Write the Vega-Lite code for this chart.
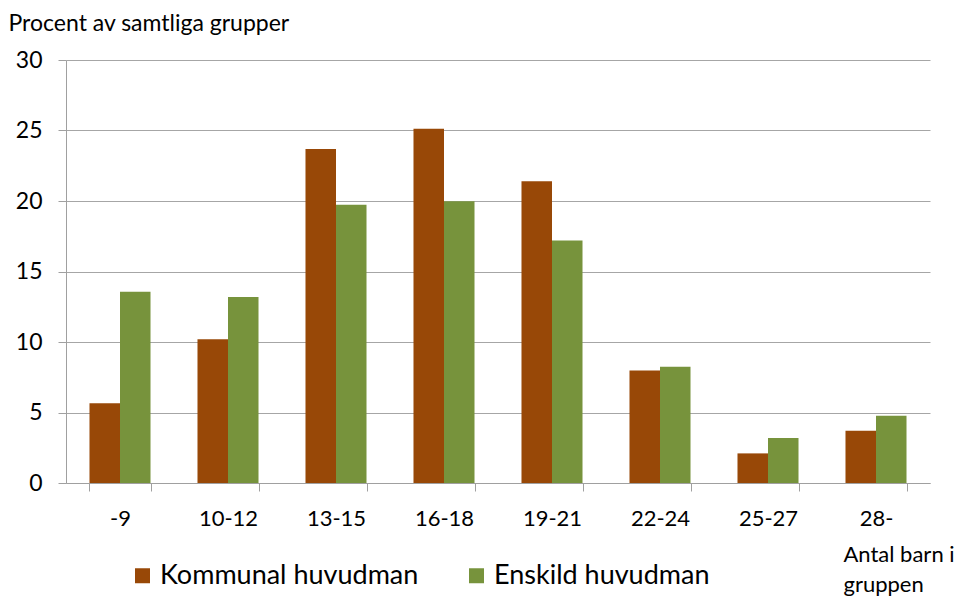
{
  "$schema": "https://vega.github.io/schema/vega-lite/v6.json",
  "width": 864,
  "height": 423,
  "autosize": "none",
  "padding": {"left": 66, "top": 60, "right": 26, "bottom": 113},
  "background": "white",
  "config": {
    "view": {"stroke": null},
    "font": "Lato",
    "axis": {"labelFont": "Lato", "titleFont": "Lato"},
    "legend": {"labelFont": "Lato"}
  },
  "data": {
    "values": [
      {"grupp": "-9", "huvudman": "Kommunal huvudman", "procent": 5.65},
      {"grupp": "-9", "huvudman": "Enskild huvudman", "procent": 13.57},
      {"grupp": "10-12", "huvudman": "Kommunal huvudman", "procent": 10.19},
      {"grupp": "10-12", "huvudman": "Enskild huvudman", "procent": 13.2},
      {"grupp": "13-15", "huvudman": "Kommunal huvudman", "procent": 23.68},
      {"grupp": "13-15", "huvudman": "Enskild huvudman", "procent": 19.74},
      {"grupp": "16-18", "huvudman": "Kommunal huvudman", "procent": 25.12},
      {"grupp": "16-18", "huvudman": "Enskild huvudman", "procent": 19.98},
      {"grupp": "19-21", "huvudman": "Kommunal huvudman", "procent": 21.4},
      {"grupp": "19-21", "huvudman": "Enskild huvudman", "procent": 17.2},
      {"grupp": "22-24", "huvudman": "Kommunal huvudman", "procent": 7.97},
      {"grupp": "22-24", "huvudman": "Enskild huvudman", "procent": 8.25},
      {"grupp": "25-27", "huvudman": "Kommunal huvudman", "procent": 2.1},
      {"grupp": "25-27", "huvudman": "Enskild huvudman", "procent": 3.2},
      {"grupp": "28-", "huvudman": "Kommunal huvudman", "procent": 3.7},
      {"grupp": "28-", "huvudman": "Enskild huvudman", "procent": 4.77}
    ]
  },
  "mark": {"type": "bar"},
  "encoding": {
    "x": {
      "field": "grupp",
      "type": "nominal",
      "sort": ["-9", "10-12", "13-15", "16-18", "19-21", "22-24", "25-27", "28-"],
      "scale": {"paddingInner": 0.435, "paddingOuter": 0.2175},
      "axis": {
        "title": ["Antal barn i", "gruppen"],
        "titleAnchor": "start",
        "titleAlign": "left",
        "titleX": 777,
        "titleY": 61,
        "titleBaseline": "top",
        "titleFontSize": 22,
        "titleFontWeight": "normal",
        "titleColor": "#000000",
        "titleLineHeight": 30,
        "labelAngle": 0,
        "labelFontSize": 22,
        "labelColor": "#000000",
        "labelPadding": 17,
        "tickBand": "extent",
        "tickSize": 8,
        "tickColor": "#a0a0a0",
        "domainColor": "#a0a0a0",
        "grid": false
      }
    },
    "xOffset": {
      "field": "huvudman",
      "type": "nominal",
      "sort": ["Kommunal huvudman", "Enskild huvudman"],
      "scale": {"paddingInner": 0, "paddingOuter": 0}
    },
    "y": {
      "field": "procent",
      "type": "quantitative",
      "scale": {"domain": [0, 30]},
      "axis": {
        "values": [0, 5, 10, 15, 20, 25, 30],
        "title": "Procent av samtliga grupper",
        "titleAngle": 0,
        "titleAlign": "left",
        "titleAnchor": "start",
        "titleBaseline": "alphabetic",
        "titleX": -58,
        "titleY": -30,
        "titleFontSize": 23,
        "titleFontWeight": "normal",
        "titleColor": "#000000",
        "labelFontSize": 23,
        "labelColor": "#000000",
        "labelPadding": 16,
        "tickSize": 8,
        "tickColor": "#a0a0a0",
        "domainColor": "#a0a0a0",
        "gridColor": "#a6a6a6",
        "gridWidth": 1
      }
    },
    "color": {
      "field": "huvudman",
      "type": "nominal",
      "sort": ["Kommunal huvudman", "Enskild huvudman"],
      "scale": {"domain": ["Kommunal huvudman", "Enskild huvudman"], "range": ["#984807", "#77933C"]},
      "legend": {
        "title": null,
        "orient": "none",
        "direction": "horizontal",
        "legendX": 63,
        "legendY": 502,
        "symbolType": "square",
        "symbolSize": 225,
        "symbolStrokeWidth": 0,
        "labelFontSize": 27,
        "labelLimit": 400,
        "labelColor": "#000000",
        "labelOffset": 4,
        "columnPadding": 44
      }
    }
  }
}
